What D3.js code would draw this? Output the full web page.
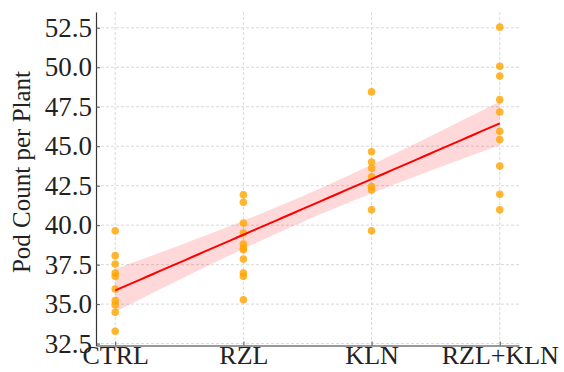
<!DOCTYPE html>
<html>
<head>
<meta charset="utf-8">
<script src="https://cdn.jsdelivr.net/npm/d3@7"></script>
<style>
  body { margin: 0; background: #fff; }
</style>
</head>
<body>
<svg id="chart" width="564" height="372"></svg>
<script>
// group names and tick labels
const groups = ['CTRL', 'RZL', 'KLN', 'RZL+KLN'];
const yTicks = [32.5, 35.0, 37.5, 40.0, 42.5, 45.0, 47.5, 50.0, 52.5];

// pod counts per plant
const ctrl = [39.64, 38.07, 37.54, 36.97, 36.76, 35.96, 35.22, 34.95, 34.48, 33.28];
const rzl = [41.93, 41.45, 40.13, 39.5, 38.8, 38.55, 38.44, 37.85, 36.97, 36.76, 35.28];
const kln = [48.44, 44.65, 44.0, 43.6, 43.07, 42.44, 42.23, 40.97, 39.64];
const rzlKln = [52.54, 50.06, 49.44, 47.95, 47.17, 45.95, 45.43, 43.74, 41.96, 40.97];

const series = [ctrl, rzl, kln, rzlKln];
const points = series.flatMap((vals, i) => vals.map(v => ({ x: i, y: v })));

const FONT = '"Liberation Serif", "Times New Roman", Times, serif';

const svg = d3.select('#chart');
const padL = 96, padR = 519, padT = 12, padB = 345.5;

const x = d3.scaleLinear().domain([-0.15, 3.15]).range([padL, padR]);
const y = d3.scaleLinear().domain([32.38, 53.5]).range([padB, padT]);

// grid lines
svg.append('g')
  .selectAll('line')
  .data(yTicks)
  .join('line')
  .attr('x1', padL).attr('x2', padR)
  .attr('y1', d => y(d)).attr('y2', d => y(d))
  .attr('stroke', '#cfcfcf').attr('stroke-width', 0.8)
  .attr('stroke-dasharray', '3,2');

svg.append('g')
  .selectAll('line')
  .data(d3.range(groups.length))
  .join('line')
  .attr('x1', d => x(d)).attr('x2', d => x(d))
  .attr('y1', padT).attr('y2', padB)
  .attr('stroke', '#cfcfcf').attr('stroke-width', 0.8)
  .attr('stroke-dasharray', '3,2');

// linear fit + 95% confidence band
const n = points.length;
const mx = d3.mean(points, d => d.x);
const my = d3.mean(points, d => d.y);
const sxx = d3.sum(points, d => (d.x - mx) ** 2);
const sxy = d3.sum(points, d => (d.x - mx) * (d.y - my));
const slope = sxy / sxx;
const intercept = my - slope * mx;
const s = Math.sqrt(d3.sum(points, d => (d.y - (intercept + slope * d.x)) ** 2) / (n - 2));
const t = 2.024;

const grid = d3.range(0, 3.0001, 0.05).map(xv => {
  const fit = intercept + slope * xv;
  const se = s * Math.sqrt(1 / n + (xv - mx) ** 2 / sxx);
  return { x: xv, fit, lo: fit - t * se, hi: fit + t * se };
});

svg.append('path')
  .datum(grid)
  .attr('d', d3.area().x(d => x(d.x)).y0(d => y(d.lo)).y1(d => y(d.hi)))
  .attr('fill', 'red').attr('fill-opacity', 0.15);

// scatter
svg.append('g')
  .selectAll('circle')
  .data(points)
  .join('circle')
  .attr('cx', d => x(d.x))
  .attr('cy', d => y(d.y))
  .attr('r', 3.8)
  .attr('fill', 'orange')
  .attr('fill-opacity', 0.8);

svg.append('path')
  .datum(grid)
  .attr('d', d3.line().x(d => x(d.x)).y(d => y(d.fit)))
  .attr('fill', 'none').attr('stroke', 'red').attr('stroke-width', 2);

// axes
const yAxis = svg.append('g')
  .attr('transform', `translate(${padL},0)`)
  .call(d3.axisLeft(y).tickValues(yTicks).tickFormat(d3.format('.1f')).tickSizeInner(-4).tickSizeOuter(0).tickPadding(4));
yAxis.attr('font-family', null);
yAxis.select('.domain').attr('stroke', '#333').attr('stroke-width', 1.2);
yAxis.selectAll('.tick line').attr('stroke', '#555');
yAxis.selectAll('.tick text').attr('font-size', 27).style('font-family', FONT).style('fill', '#222');

const xAxis = svg.append('g')
  .attr('transform', `translate(0,${padB})`)
  .call(d3.axisBottom(x).tickValues(d3.range(groups.length)).tickFormat(i => groups[i]).tickSizeInner(-4).tickSizeOuter(0).tickPadding(4));
xAxis.attr('font-family', null);
xAxis.select('.domain').attr('stroke', '#333').attr('stroke-width', 1.2);
xAxis.selectAll('.tick line').attr('stroke', '#555');
xAxis.selectAll('.tick text').attr('font-size', 26).attr('dy', '0.55em').style('font-family', FONT).style('fill', '#222');

svg.append('text')
  .attr('transform', 'translate(30,172) rotate(-90)')
  .attr('text-anchor', 'middle')
  .attr('font-size', 25)
  .style('font-family', FONT)
  .style('fill', '#222')
  .text('Pod Count per Plant');
</script>
</body>
</html>
